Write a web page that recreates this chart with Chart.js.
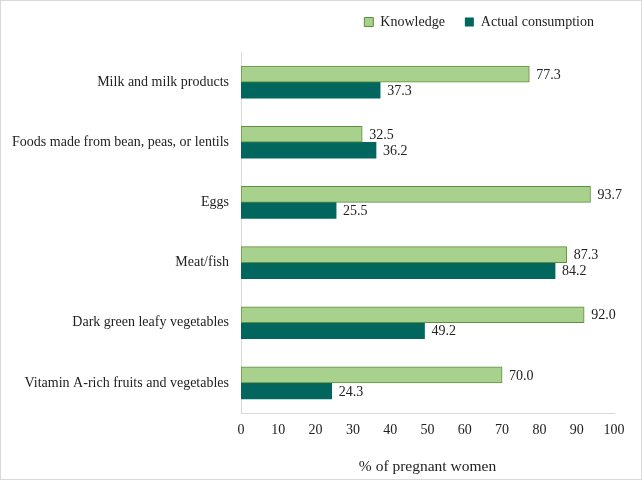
<!DOCTYPE html>
<html>
<head>
<meta charset="utf-8">
<script src="https://cdn.jsdelivr.net/npm/chart.js@4/dist/chart.umd.min.js"></script>
<style>
  html, body { margin: 0; padding: 0; background: #fff; }
  #wrap { position: relative; width: 642px; height: 480px; box-sizing: border-box; border: 1px solid #d9d9d9; }
</style>
</head>
<body>
<div id="wrap"><canvas id="chart" width="640" height="478"></canvas></div>
<script>
// food groups, top to bottom
const categories = [
    'Milk and milk products',
    'Foods made from bean, peas, or lentils',
    'Eggs',
    'Meat/fish',
    'Dark green leafy vegetables',
    'Vitamin A-rich fruits and vegetables'
];
const knowledge = [77.3, 32.5, 93.7, 87.3, 92.0, 70.0];
const actualConsumption = [37.3, 36.2, 25.5, 84.2, 49.2, 24.3];
const seriesNames = ['Knowledge', 'Actual consumption'];
const xTicks = [0, 10, 20, 30, 40, 50, 60, 70, 80, 90, 100];

const fontFamily = '"Liberation Serif", "Times New Roman", serif';

// value labels at the end of each bar
const valueLabels = {
    id: 'valueLabels',
    afterDatasetsDraw(chart) {
        const ctx = chart.ctx;
        ctx.save();
        ctx.font = '14px ' + fontFamily;
        ctx.fillStyle = '#222';
        ctx.textBaseline = 'middle';
        ctx.textAlign = 'left';
        chart.data.datasets.forEach((ds, i) => {
            chart.getDatasetMeta(i).data.forEach((bar, j) => {
                ctx.fillText(ds.data[j].toFixed(1), bar.x + 7, bar.y + 1);
            });
        });
        ctx.restore();
    }
};

// fixed legend height so the plot starts lower
const legendHeight = {
    id: 'legendHeight',
    beforeInit(chart) {
        const legend = chart.legend;
        if (!legend) return;
        const fit = legend.fit;
        legend.fit = function () {
            fit.call(this);
            this.height = 57;
        };
    }
};

new Chart(document.getElementById('chart').getContext('2d'), {
    type: 'bar',
    data: {
        labels: categories,
        datasets: [{
            label: seriesNames[0],
            data: knowledge,
            backgroundColor: '#a9d18e',
            borderColor: '#5f8f3e',
            borderWidth: 1,
            borderSkipped: false,
            barThickness: 16
        }, {
            label: seriesNames[1],
            data: actualConsumption,
            backgroundColor: '#00665e',
            borderWidth: 0,
            barThickness: 16
        }]
    },
    options: {
        indexAxis: 'y',
        responsive: false,
        animation: false,
        layout: { padding: { top: -6, right: 27, bottom: 0, left: 0 } },
        plugins: {
            legend: {
                position: 'top',
                align: 'end',
                labels: {
                    boxWidth: 9,
                    boxHeight: 9,
                    padding: 20,
                    color: '#222',
                    font: { family: fontFamily, size: 14 }
                }
            },
            tooltip: { enabled: false }
        },
        scales: {
            x: {
                min: 0,
                max: 100,
                afterBuildTicks: scale => { scale.ticks = xTicks.map(v => ({ value: v })); },
                grid: { display: false, drawTicks: false },
                border: { display: true, color: '#d9d9d9' },
                ticks: { color: '#222', padding: 9, font: { family: fontFamily, size: 14 } },
                title: {
                    display: true,
                    text: '% of pregnant women',
                    color: '#222',
                    padding: { top: 12, bottom: 3 },
                    font: { family: fontFamily, size: 15.5 }
                },
                afterFit: scale => { scale.height = 66; }
            },
            y: {
                grid: { display: false, drawTicks: false },
                border: { display: true, color: '#d9d9d9' },
                ticks: { color: '#222', padding: 12, font: { family: fontFamily, size: 14 } },
                afterFit: scale => { scale.width = 240; }
            }
        }
    },
    plugins: [valueLabels, legendHeight]
});
</script>
</body>
</html>
